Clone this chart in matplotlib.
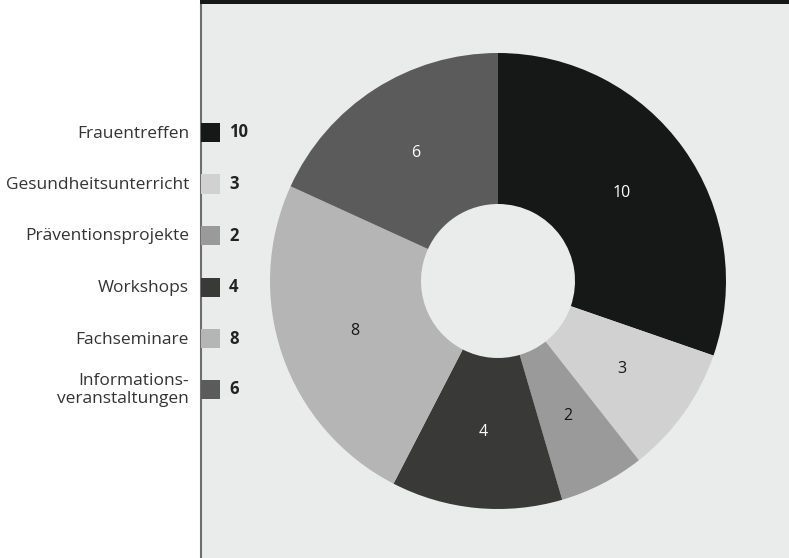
import numpy as np
import matplotlib.pyplot as plt
from matplotlib.patches import Rectangle

plt.rcParams['font.family'] = ['Open Sans', 'DejaVu Sans']

# data
labels = ['Frauentreffen', 'Gesundheitsunterricht', 'Präventionsprojekte',
          'Workshops', 'Fachseminare', 'Informations-\nveranstaltungen']
values = [10, 3, 2, 4, 8, 6]
colors = ['#161817', '#d0d1d0', '#9a9a9a', '#393938', '#b4b5b4', '#5b5b5b']
text_colors = ['white', '#161817', '#161817', 'white', '#161817', 'white']

W, H = 789, 558
fig = plt.figure(figsize=(W / 100, H / 100), dpi=100)
fig.patch.set_facecolor('white')

def fx(px):
    return px / W

def fy(py):
    return 1 - py / H

# panel background, top bar, left line
fig.patches.append(Rectangle((fx(201), 0), 1 - fx(201), 1, transform=fig.transFigure,
                             facecolor='#eaeceb', edgecolor='none', zorder=-2))
fig.patches.append(Rectangle((fx(200), fy(4)), 1 - fx(200), fy(0) - fy(4),
                             transform=fig.transFigure, facecolor='#161817',
                             edgecolor='none', zorder=-1))
fig.add_artist(plt.Line2D([fx(201.5), fx(201.5)], [0, fy(4)], transform=fig.transFigure,
                          color='#6e6e6e', linewidth=1.5, zorder=-1))

# donut
cx, cy, R, r_in = 498, 281, 228, 77
ax = fig.add_axes([fx(cx - R), fy(cy + R), 2 * R / W, 2 * R / H])
ax.set_zorder(1)
ax.set_facecolor('none')
wedges, _ = ax.pie(values, colors=colors, startangle=90, counterclock=False, radius=1,
                   wedgeprops=dict(width=1 - r_in / R, linewidth=0))
ax.set_xlim(-1, 1)
ax.set_ylim(-1, 1)
ax.set_aspect('equal')
ax.axis('off')

total = sum(values)
start = 90
for v, tc in zip(values, text_colors):
    mid = np.deg2rad(start - v / total * 360 / 2)
    start -= v / total * 360
    ax.text(0.665 * np.cos(mid), 0.665 * np.sin(mid), str(v), ha='center', va='center',
            fontsize=11.5, color=tc)

# legend
row_y = [132.5, 184, 235.5, 287, 338.5, 389]
for lab, v, c, y in zip(labels, values, colors, row_y):
    fig.patches.append(Rectangle((fx(201), fy(y + 9.5)), 19 / W, 19 / H,
                                 transform=fig.transFigure, facecolor=c,
                                 edgecolor='none', zorder=3))
    fig.text(fx(189), fy(y + 1), lab, ha='right', va='center', fontsize=12.5,
             color='#333333', linespacing=1.2)
    fig.text(fx(229), fy(y), str(v), ha='left', va='center', fontsize=12,
             fontweight='bold', color='#222222')

fig.savefig('out.png', dpi=100)
